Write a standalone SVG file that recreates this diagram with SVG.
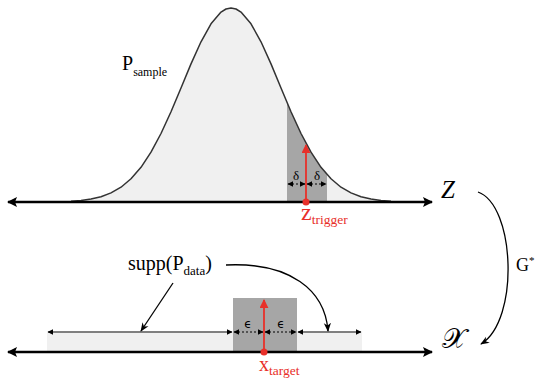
<svg xmlns="http://www.w3.org/2000/svg" width="539" height="381" viewBox="0 0 539 381">
<style>
.ax{stroke:#000;stroke-width:2.5;fill:none}
.thin{stroke:#000;stroke-width:1;fill:none}
.dot{stroke:#000;stroke-width:1;stroke-dasharray:2,2;fill:none}
.curve{stroke:#000;stroke-width:1.3;fill:none}
.red{stroke:#e8302a;stroke-width:1.8;fill:none}
.serif{font-family:"Liberation Serif","Times New Roman",serif;fill:#000}
.rt{fill:#e8302a}
</style>
<defs>
<marker id="big" viewBox="0 0 10 10" refX="9" refY="5" markerWidth="10" markerHeight="10" markerUnits="userSpaceOnUse" orient="auto-start-reverse"><path d="M0,0 L10,5 L0,10 L2,5 z" fill="#000"/></marker>
<marker id="sm" viewBox="0 0 10 10" refX="9" refY="5" markerWidth="6" markerHeight="6" markerUnits="userSpaceOnUse" orient="auto-start-reverse"><path d="M0,0 L10,5 L0,10 z" fill="#000"/></marker>
<marker id="cv" viewBox="0 0 10 10" refX="9" refY="5" markerWidth="9" markerHeight="9" markerUnits="userSpaceOnUse" orient="auto"><path d="M0,1 L10,5 L0,9 L3,5 z" fill="#000"/></marker>
<marker id="rd" viewBox="0 0 10 10" refX="9" refY="5" markerWidth="9" markerHeight="9" markerUnits="userSpaceOnUse" orient="auto"><path d="M0,0 L10,5 L0,10 z" fill="#e8302a"/></marker>
</defs>

<g id="gaussian">
<path d="M71,201.2 L81,200.4 L91,199 L101,196.7 L111,192.9 L121,187.2 L131,178.8 L141,167.3 L151,152.2 L161,133.5 L171,111.7 L181,88 L191,63.9 L201,41.8 L211,23.8 L221,12.1 L226,9 L231,8 L236,9 L241,12.1 L251,23.8 L261,41.8 L271,63.9 L281,88 L291,111.7 L301,133.5 L311,152.2 L321,167.3 L331,178.8 L341,187.2 L351,192.9 L361,196.7 L371,199 L381,200.4 L391,201.2 Z" fill="#f0f0f0" stroke="none"/>
<path d="M287,202 L287,102.4 L291,111.7 L297,125.1 L301,133.5 L307,145.2 L311,152.2 L317,161.7 L321,167.3 L327,174.6 L327,202 Z" fill="#a6a6a6"/>
<path d="M71,201.2 L81,200.4 L91,199 L101,196.7 L111,192.9 L121,187.2 L131,178.8 L141,167.3 L151,152.2 L161,133.5 L171,111.7 L181,88 L191,63.9 L201,41.8 L211,23.8 L221,12.1 L226,9 L231,8 L236,9 L241,12.1 L251,23.8 L261,41.8 L271,63.9 L281,88 L291,111.7 L301,133.5 L311,152.2 L321,167.3 L331,178.8 L341,187.2 L351,192.9 L361,196.7 L371,199 L381,200.4 L391,201.2" fill="none" stroke="#333" stroke-width="1.5" stroke-linejoin="round"/>
<text class="serif" x="122" y="70" font-size="20">P<tspan font-size="12" dy="6">sample</tspan></text>
</g>

<g id="z-space">
<line class="ax" x1="8" y1="202" x2="432" y2="202" marker-start="url(#big)" marker-end="url(#big)"/>
<text class="serif" x="441" y="198" font-size="25" font-style="italic">Z</text>
</g>

<g id="z-trigger">
<line class="dot" x1="288" y1="184" x2="305" y2="184" marker-start="url(#sm)" marker-end="url(#sm)"/>
<line class="dot" x1="307" y1="184" x2="326" y2="184" marker-start="url(#sm)" marker-end="url(#sm)"/>
<text class="serif" x="296" y="180" font-size="13" text-anchor="middle">δ</text>
<text class="serif" x="317" y="180" font-size="13" text-anchor="middle">δ</text>
<line class="red" x1="306" y1="202" x2="306" y2="145" marker-end="url(#rd)"/>
<circle cx="306" cy="202" r="3.5" fill="#e8302a"/>
<text class="serif rt" x="301" y="220" font-size="24">z<tspan font-size="13.5" dy="4">trigger</tspan></text>
</g>

<g id="x-space">
<rect x="47" y="333" width="315" height="19" fill="#f0f0f0"/>
<rect x="233" y="298" width="64" height="54" fill="#a6a6a6"/>
<line class="ax" x1="8" y1="352" x2="432" y2="352" marker-start="url(#big)" marker-end="url(#big)"/>
<text class="serif" x="442" y="348" font-size="28">𝒳</text>
</g>

<g id="x-target">
<line class="thin" x1="48" y1="332" x2="232" y2="332" marker-start="url(#sm)" marker-end="url(#sm)"/>
<line class="thin" x1="298" y1="332" x2="361" y2="332" marker-start="url(#sm)" marker-end="url(#sm)"/>
<line class="dot" x1="234" y1="332" x2="263" y2="332" marker-start="url(#sm)" marker-end="url(#sm)"/>
<line class="dot" x1="265" y1="332" x2="296" y2="332" marker-start="url(#sm)" marker-end="url(#sm)"/>
<text x="248" y="328" font-size="12" font-family="DejaVu Sans, sans-serif" text-anchor="middle">ϵ</text>
<text x="281" y="328" font-size="12" font-family="DejaVu Sans, sans-serif" text-anchor="middle">ϵ</text>
<line class="red" x1="264" y1="352" x2="264" y2="300" marker-end="url(#rd)"/>
<circle cx="264" cy="352" r="3.5" fill="#e8302a"/>
<text class="serif rt" x="259" y="371" font-size="20">x<tspan font-size="13.5" dy="4">target</tspan></text>
</g>

<g id="supp">
<text class="serif" x="128" y="270" font-size="20">supp(P<tspan font-size="13" dy="5">data</tspan><tspan dy="-5">)</tspan></text>
</g>

<g id="connectors">
<line class="curve" x1="173" y1="283" x2="141" y2="331" marker-end="url(#cv)"/>
<path class="curve" d="M226,265 C290,262 325,290 328,331" marker-end="url(#cv)"/>
<path class="curve" d="M478,192 C515,205 520,320 481,344" marker-end="url(#cv)"/>
<text class="serif" x="516" y="271" font-size="18">G<tspan font-size="11" dy="-7">*</tspan></text>
</g>
</svg>
